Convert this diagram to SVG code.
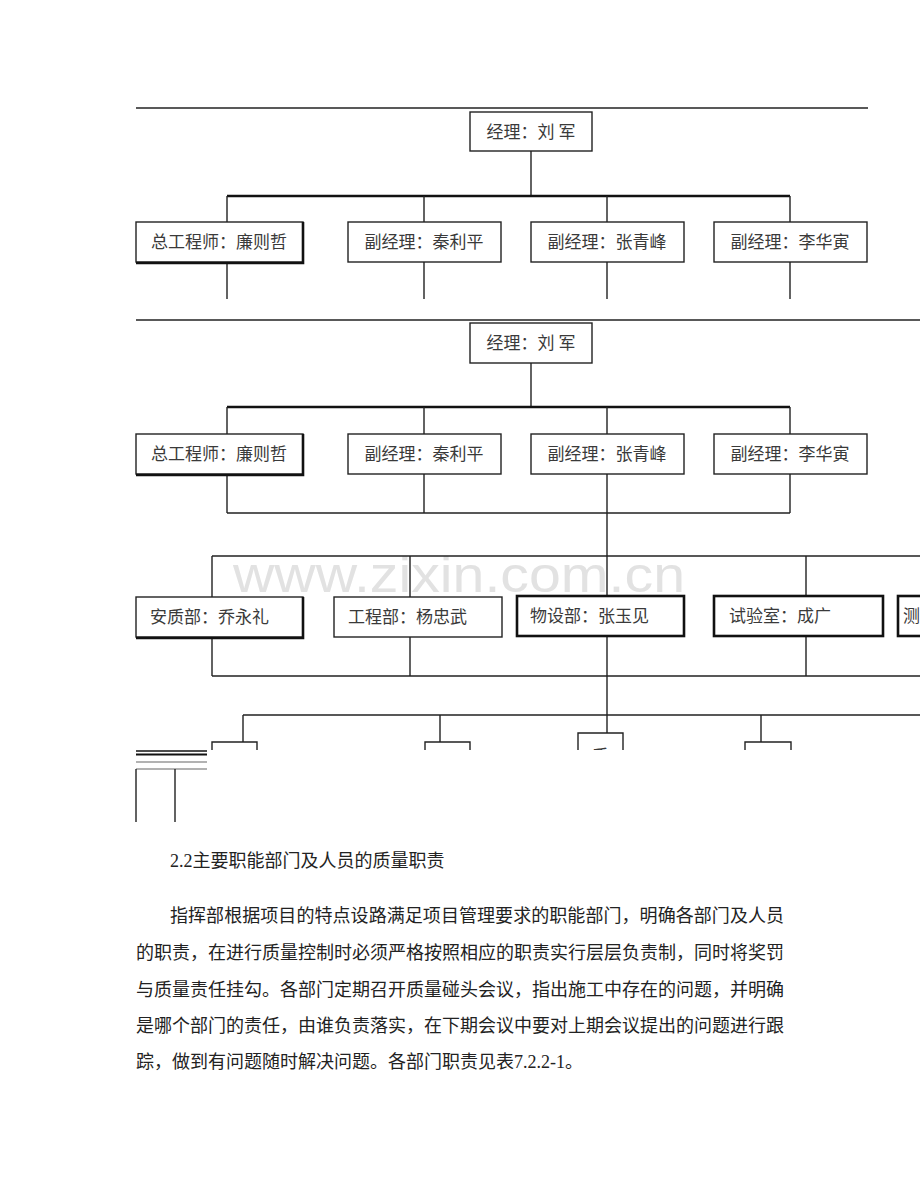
<svg xmlns="http://www.w3.org/2000/svg" width="920" height="1191" viewBox="0 0 920 1191">
<style>
.box{fill:#fff;stroke:#222;stroke-width:1.4}
.thk{stroke:#111;stroke-width:2.6;fill:none}
.bold{fill:#fff;stroke:#111;stroke-width:2.6}
.lab{font-family:"Noto Sans CJK SC","Liberation Serif",serif;font-size:17px;fill:#3a3a3a}
.c{text-anchor:middle}
.ln{stroke:#222;stroke-width:1.4;fill:none}
.bar{stroke:#111;stroke-width:2.6;fill:none}
.gry{stroke:#999;stroke-width:1.6;fill:none}
.body{font-family:"Liberation Serif","Noto Sans CJK SC",serif;font-size:18px;fill:#222}
</style>
<defs>
<clipPath id="cut"><rect x="0" y="0" width="920" height="750"/></clipPath>
</defs>
<rect width="920" height="1191" fill="#fff"/>
<text x="233" y="592" font-family="Liberation Sans, Arial, sans-serif" font-size="50" fill="#e2e2e2" textLength="452" lengthAdjust="spacingAndGlyphs">www.zixin.com.cn</text>
<g id="connectors">
<line class="ln" x1="136" y1="108" x2="868" y2="108"/>
<line class="ln" x1="531" y1="151" x2="531" y2="196"/>
<line class="bar" x1="227" y1="196" x2="790" y2="196"/>
<path class="ln" d="M227,196V222M424,196V222M607,196V222M790,196V222"/>
<path class="ln" d="M227,262V299M424,262V299M607,262V299M790,262V299"/>
<line class="ln" x1="136" y1="320" x2="920" y2="320"/>
<line class="ln" x1="531" y1="363" x2="531" y2="407"/>
<line class="bar" x1="227" y1="407" x2="790" y2="407"/>
<path class="ln" d="M227,407V434M424,407V434M607,407V434M790,407V434"/>
<path class="ln" d="M227,474V513M424,474V513M607,474V513M790,474V513M227,513H790"/>
<path class="ln" d="M607,513V733"/>
<path class="ln" d="M212,556H920M212,556V597M410,556V597M806,556V597"/>
<path class="ln" d="M212,637V676M410,637V676M806,637V676M212,676H920"/>
<path class="ln" d="M243,715H920M243,715V742M440,715V742M761,715V742"/>
<path class="ln" d="M212,750V742H257V750M425,750V742H470V750M745,750V742H791V750M578,750V733H623V750"/>
<path d="M136,751H207" stroke="#111" stroke-width="1.4"/>
<path d="M136,754.5H207" stroke="#111" stroke-width="2"/>
<path class="gry" d="M136,762H207M136,769H207"/>
<path class="ln" d="M136,769V822M175,769V822"/>
</g>
<g id="n-manager-1"><rect class="box" x="470" y="112" width="122" height="39"/><text class="lab c" x="531" y="138">经理：刘 军</text></g>
<g id="n-chief-1"><rect class="box" x="136" y="222" width="167" height="40"/><path class="thk" d="M303,222V263H136"/><text class="lab c" x="219" y="248">总工程师：廉则哲</text></g>
<g id="n-dep-qin-1"><rect class="box" x="348" y="222" width="153" height="40"/><text class="lab c" x="424" y="248">副经理：秦利平</text></g>
<g id="n-dep-zhang-1"><rect class="box" x="531" y="222" width="153" height="40"/><text class="lab c" x="607" y="248">副经理：张青峰</text></g>
<g id="n-dep-li-1"><rect class="box" x="714" y="222" width="153" height="40"/><text class="lab c" x="790" y="248">副经理：李华寅</text></g>
<g id="n-manager-2"><rect class="box" x="470" y="323" width="122" height="40"/><text class="lab c" x="531" y="349">经理：刘 军</text></g>
<g id="n-chief-2"><rect class="box" x="136" y="434" width="167" height="40"/><path class="thk" d="M303,434V475H136"/><text class="lab c" x="219" y="460">总工程师：廉则哲</text></g>
<g id="n-dep-qin-2"><rect class="box" x="348" y="434" width="153" height="40"/><text class="lab c" x="424" y="460">副经理：秦利平</text></g>
<g id="n-dep-zhang-2"><rect class="box" x="531" y="434" width="153" height="40"/><text class="lab c" x="607" y="460">副经理：张青峰</text></g>
<g id="n-dep-li-2"><rect class="box" x="714" y="434" width="153" height="40"/><text class="lab c" x="790" y="460">副经理：李华寅</text></g>
<g id="n-anzhi"><rect class="box" x="136" y="597" width="167" height="40"/><path class="thk" d="M303,597V638H136"/><text class="lab" x="150" y="623">安质部：乔永礼</text></g>
<g id="n-gongcheng"><rect class="box" x="334" y="597" width="168" height="40"/><text class="lab" x="348" y="623">工程部：杨忠武</text></g>
<g id="n-wushe"><rect class="bold" x="517" y="596" width="167" height="40"/><text class="lab" x="530" y="622">物设部：张玉见</text></g>
<g id="n-shiyan"><rect class="bold" x="714" y="596" width="169" height="40"/><text class="lab" x="729" y="622">试验室：成广</text></g>
<g id="n-ce"><rect class="bold" x="898" y="596" width="40" height="40"/><text class="lab" x="903" y="622">测</text></g>
<g id="n-zhi" clip-path="url(#cut)"><text class="lab c" x="600" y="762">质</text></g>
<g id="text">
<text class="body" x="170" y="867" font-size="16">2.2主要职能部门及人员的质量职责</text>
<text class="body" x="170" y="922" textLength="614" lengthAdjust="spacing">指挥部根据项目的特点设路满足项目管理要求的职能部门，明确各部门及人员</text>
<text class="body" x="136" y="959" textLength="648" lengthAdjust="spacing">的职责，在进行质量控制时必须严格按照相应的职责实行层层负责制，同时将奖罚</text>
<text class="body" x="136" y="996" textLength="648" lengthAdjust="spacing">与质量责任挂勾。各部门定期召开质量碰头会议，指出施工中存在的问题，并明确</text>
<text class="body" x="136" y="1032" textLength="648" lengthAdjust="spacing">是哪个部门的责任，由谁负责落实，在下期会议中要对上期会议提出的问题进行跟</text>
<text class="body" x="136" y="1068">踪，做到有问题随时解决问题。各部门职责见表7.2.2-1。</text>
</g>
</svg>
